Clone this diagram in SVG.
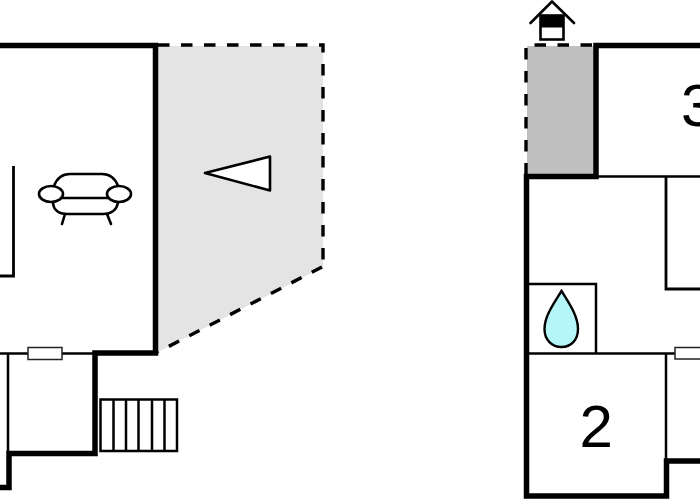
<svg xmlns="http://www.w3.org/2000/svg" width="700" height="500" viewBox="0 0 700 500">
<style>
.wall{fill:none;stroke:#000;stroke-width:5.5;stroke-linecap:square;stroke-linejoin:miter}
.thin{fill:none;stroke:#000;stroke-width:2.5}
.mid{fill:none;stroke:#000;stroke-width:2.8}
.dash{fill:none;stroke:#000;stroke-width:3.4;stroke-dasharray:11.5 11.5}
.win{fill:#fff;stroke:#222;stroke-width:1.5}
.sym{fill:#fff;stroke:#000;stroke-width:2.6;stroke-linejoin:round;stroke-linecap:round}
.num{font-family:"Liberation Sans",Arial,sans-serif;font-size:60px;fill:#000}
</style>
<rect width="700" height="500" fill="#fff"/>
<g id="terrace-left">
<polygon points="158,46 323,46 323,267 158,352" fill="#e4e4e4"/>
<path class="dash" d="M158,45H323V267"/>
<path class="dash" d="M322,267L158,352"/>
<polygon class="sym" points="205,173 270,156.500 270,190.500"/>
</g>
<g id="terrace-right">
<rect x="527" y="46" width="67" height="129" fill="#c0c0c0"/>
<path class="dash" d="M592,45H526V175"/>
</g>
<g id="walls-left">
<path class="wall" d="M-3,45.500H155.500V353H95V453.500H9V487.500H-3"/>
<path class="thin" d="M0,353.500H95"/>
<path class="thin" d="M8,353V452"/>
<path class="mid" d="M13.500,166V276H0"/>
</g>
<g id="walls-right">
<path class="wall" d="M703,45.500H596V176.500H526.500V496H666.500V461H703"/>
<path class="thin" d="M596,176.500H700"/>
<path class="mid" d="M666,177V289H700"/>
<path class="thin" d="M527,353.500H675"/>
<path class="thin" d="M666,353V459"/>
<path class="thin" d="M527,284H596V353"/>
</g>
<g id="window-left"><rect class="win" x="28" y="347.500" width="34" height="12"/></g>
<g id="window-right"><rect class="win" x="675" y="347.500" width="30" height="11.500"/></g>
<g id="stairs">
<rect class="thin" x="100.500" y="399.500" width="76.500" height="51.500"/>
<path class="thin" d="M113.500,399.500V451M126,399.500V451M138.500,399.500V451M152,399.500V451M164.500,399.500V451"/>
</g>
<g id="sofa">
<path class="sym" d="M54,186C57,178 62,174 70,174H102C110,174 115,178 118,186"/>
<path class="sym" d="M53,202C53,210 59,214 67,214H103C111,214 117,210 118,202"/>
<path class="sym" d="M62,198H108"/>
<path class="sym" d="M65,214L62,224M107,214L111,224"/>
<ellipse class="sym" cx="51" cy="194" rx="12" ry="8"/>
<ellipse class="sym" cx="119" cy="194" rx="12" ry="8"/>
</g>
<g id="drop">
<path d="M561.500,291C554,303 544.500,316 544.500,329C544.500,340 552,347 561.500,347C571,347 578,340 578,329C578,316 569,303 561.500,291Z" fill="#b5f7f9" stroke="#000" stroke-width="2.4"/>
</g>
<g id="fireplace">
<path class="sym" d="M530.500,23L552,1.500L574,23" style="fill:none"/>
<rect x="540.500" y="15.500" width="23" height="24" fill="#fff" stroke="#000" stroke-width="2.6"/>
<rect x="540.500" y="15.500" width="23" height="12" fill="#000"/>
</g>
<g id="room-2"><text class="num" x="579.500" y="447">2</text></g>
<g id="room-3"><text class="num" x="681" y="126">3</text></g>
</svg>
